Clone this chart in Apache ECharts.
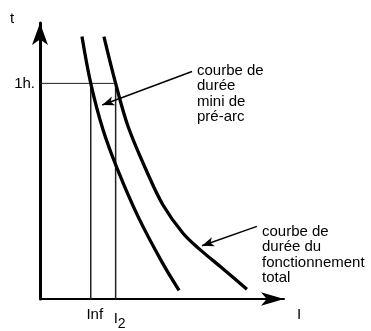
<!DOCTYPE html>
<html><head><meta charset="utf-8">
<script src="https://cdn.jsdelivr.net/npm/echarts@6/dist/echarts.min.js"></script>
<style>html,body{margin:0;padding:0;background:#fff}#c{width:371px;height:331px}</style>
</head><body><div id="c"></div><script>
// Fuse characteristics: current I (arbitrary units) vs. time t (hours)
const preArcI = [1.72, 2.08, 2.58, 3.16, 4.02, 5.00, 5.70];
const preArcT = [1.217, 1.0, 0.786, 0.606, 0.382, 0.171, 0.040];
const totalI = [2.62, 3.10, 3.61, 4.39, 5.04, 5.86, 6.56, 7.46, 8.48];
const totalT = [1.217, 1.0, 0.80, 0.588, 0.436, 0.305, 0.229, 0.144, 0.045];

// Reference values: one hour, non-fusing current and I2
const oneHour = 1;
const inf = 2.08;
const i2 = 3.10;
const xTickValues = [inf, i2];
const xTickLabels = ['Inf', 'I{s|2}'];
const yTickValues = [oneHour];
const yTickLabels = ['1h.'];

const FONT = '"Liberation Sans", Arial, sans-serif';
const zip = (xs, ys) => xs.map((x, k) => [x, ys[k]]);

const thin = (data, w) => ({
  type: 'line', data, symbol: 'none', silent: true,
  lineStyle: { color: '#222', width: w }
});

const arrowLine = (from, to) => [
  { coord: from, symbol: 'none' },
  { coord: to, symbol: 'arrow' }
];

const curve = (name, data, arrow) => ({
  type: 'line', name, smooth: 0.35, symbol: 'none', silent: true,
  data,
  lineStyle: { color: '#000', width: 3.3 },
  markLine: {
    silent: true, symbolSize: [7, 12],
    lineStyle: { color: '#000', width: 1.5, type: 'solid' },
    label: { show: false },
    data: [arrow]
  }
});

const chart = echarts.init(document.getElementById('c'), null, { renderer: 'canvas' });
chart.setOption({
  animation: false,
  backgroundColor: '#fff',
  grid: { left: 40, right: 87, top: 23, bottom: 23 },
  xAxis: {
    type: 'value', min: 0, max: 10,
    splitLine: { show: false },
    axisTick: { show: false },
    axisLine: { lineStyle: { color: '#000', width: 2 }, symbol: ['none', 'arrow'], symbolSize: [10, 23] },
    axisLabel: {
      customValues: xTickValues,
      formatter: v => xTickLabels[xTickValues.indexOf(v)] || '',
      color: '#000', fontFamily: FONT, fontSize: 15, margin: 8,
      padding: [0, 0, 0, 8],
      rich: { s: { fontFamily: FONT, fontSize: 14, color: '#000', padding: [10, 0, 0, 0] } }
    }
  },
  yAxis: {
    type: 'value', min: 0, max: 1.28,
    splitLine: { show: false },
    axisTick: { show: false },
    axisLine: { lineStyle: { color: '#000', width: 3 }, symbol: ['none', 'arrow'], symbolSize: [12, 22] },
    axisLabel: {
      customValues: yTickValues,
      formatter: v => yTickLabels[yTickValues.indexOf(v)] || '',
      color: '#000', fontFamily: FONT, fontSize: 15, margin: 5
    }
  },
  series: [
    thin([[0, oneHour], [i2, oneHour]], 1),
    thin([[inf, 0], [inf, oneHour]], 1.5),
    thin([[i2, 0], [i2, oneHour]], 1.5),
    curve('pré-arc', zip(preArcI, preArcT), arrowLine([6.23, 1.055], [2.55, 0.9])),
    curve('total', zip(totalI, totalT), arrowLine([8.89, 0.337], [6.64, 0.247]))
  ],
  graphic: [
    { type: 'text', left: 10, top: 11, style: { text: 't', font: '15px ' + FONT, fill: '#000' } },
    { type: 'text', left: 297, top: 307, style: { text: 'I', font: '15px ' + FONT, fill: '#000' } },
    { type: 'text', left: 197, top: 63, style: { text: 'courbe de\ndurée\nmini de\npré-arc', font: '15px ' + FONT, lineHeight: 15.5, fill: '#000' } },
    { type: 'text', left: 262, top: 224, style: { text: 'courbe de\ndurée du\nfonctionnement\ntotal', font: '15px ' + FONT, lineHeight: 15.5, fill: '#000' } }
  ]
});
</script></body></html>
